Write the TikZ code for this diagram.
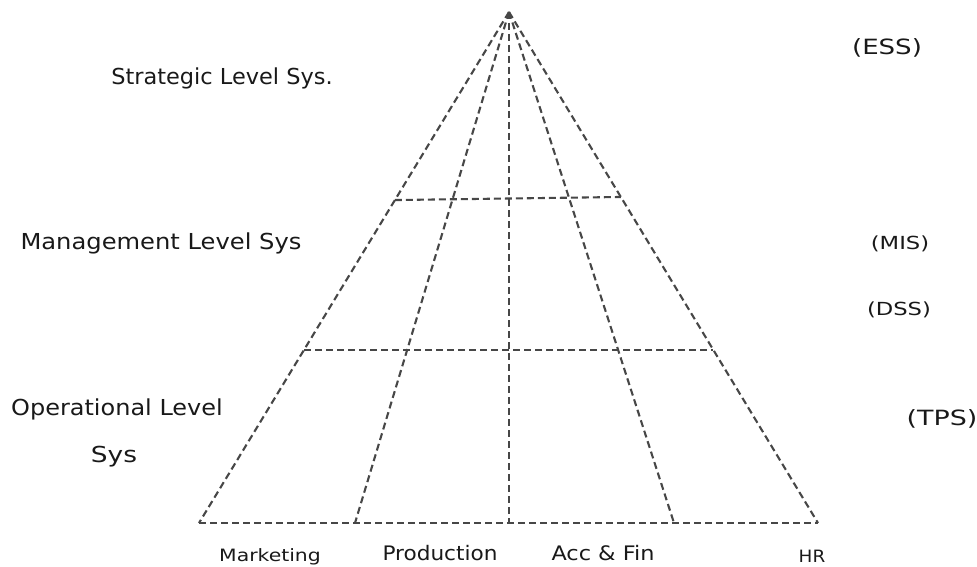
\documentclass[tikz,border=0pt]{standalone}
\usepackage{graphicx}
\usepackage{fontspec}
\setmainfont{DejaVu Sans}
\usetikzlibrary{calc}
\newcommand\hstretch[2]{\scalebox{#1}[1]{#2}}
\begin{document}
\begin{tikzpicture}[x=1pt,y=-1pt,
  grid/.style={draw=black!72,dash pattern=on 7pt off 4pt,line width=2.1pt},
  lbl/.style={inner sep=0pt,anchor=base,text=black!90}]
\useasboundingbox (0,0) rectangle (977,567);
\coordinate (A) at (509,12);
\coordinate (BL) at (199,523);
\coordinate (BR) at (818,523);
\coordinate (B1) at (355,523);
\coordinate (B2) at (509,523);
\coordinate (B3) at (674,523);
\coordinate (UL) at ($(A)!0.368!(BL)$);
\coordinate (UR) at ($(A)!0.362!(BR)$);
\coordinate (LL) at ($(A)!0.661!(BL)$);
\coordinate (LR) at ($(A)!0.661!(BR)$);
\draw[grid] (A) -- (BL);
\draw[grid] (A) -- (BR);
\draw[grid] (A) -- (B1);
\draw[grid] (A) -- (B2);
\draw[grid] (A) -- (B3);
\draw[grid] (BL) -- (BR);
\draw[grid] (UL) -- (UR);
\draw[grid] (LL) -- (LR);
\node[lbl,font=\fontsize{22}{26}\selectfont] (strat) at (222,85) {\hstretch{1.02}{Strategic Level Sys.}};
\node[lbl,font=\fontsize{22}{26}\selectfont] (mgmt) at (161,249) {\hstretch{1.10}{Management Level Sys}};
\node[lbl,font=\fontsize{22}{26}\selectfont] (oper) at (117,415) {\hstretch{1.09}{Operational Level}};
\node[lbl,font=\fontsize{22}{26}\selectfont] (opsys) at (114,462) {\hstretch{1.2}{Sys}};
\node[lbl,font=\fontsize{21}{25}\selectfont] (ess) at (887,55) {\hstretch{1.24}{(ESS)}};
\node[lbl,font=\fontsize{18}{22}\selectfont] (mis) at (900,249) {\hstretch{1.26}{(MIS)}};
\node[lbl,font=\fontsize{18}{22}\selectfont] (dss) at (899,315) {\hstretch{1.26}{(DSS)}};
\node[lbl,font=\fontsize{21}{25}\selectfont] (tps) at (942,425) {\hstretch{1.28}{(TPS)}};
\node[lbl,font=\fontsize{17}{20}\selectfont] (mkt) at (270,561) {\hstretch{1.2}{Marketing}};
\node[lbl,font=\fontsize{20}{24}\selectfont] (prod) at (440,560) {\hstretch{1.08}{Production}};
\node[lbl,font=\fontsize{20}{24}\selectfont] (acc) at (603,560) {\hstretch{1.12}{Acc \& Fin}};
\node[lbl,font=\fontsize{17}{20}\selectfont] (hr) at (812,562) {\hstretch{1.08}{HR}};
\end{tikzpicture}
\end{document}
